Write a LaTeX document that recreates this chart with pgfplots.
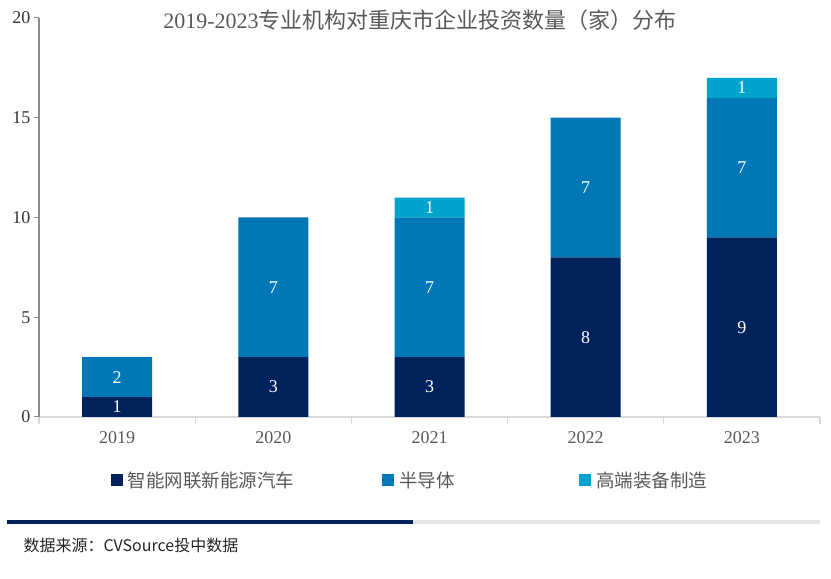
\documentclass[border=0pt]{standalone}
\usepackage{fontspec}
\setmainfont{Liberation Serif}
\newfontfamily\cjk{Noto Sans CJK SC}
\usepackage{pgfplots}
\pgfplotsset{compat=1.18}

\definecolor{navy}{RGB}{0,34,92}
\definecolor{midblue}{RGB}{0,119,182}
\definecolor{lightblue}{RGB}{0,163,204}
\definecolor{txtgray}{RGB}{89,89,89}

\begin{document}
\begin{tikzpicture}
\path[use as bounding box] (0,0) rectangle (831pt,579pt);

\begin{axis}[
    at={(39pt,162pt)}, anchor=south west,
    scale only axis, width=781pt, height=399pt,
    ybar stacked, bar width=70pt,
    xmin=-0.5, xmax=4.5, ymin=0, ymax=20,
    xtick={0,1,2,3,4},
    xticklabels={2019,2020,2021,2022,2023},
    minor xtick={-0.5,0.5,1.5,2.5,3.5,4.5},
    major x tick style={draw=none},
    minor x tick style={draw=black!15, line width=1.2pt},
    minor tick length=7pt,
    ytick={0,5,10,15,20},
    y tick style={draw=black!45, line width=1pt},
    major tick length=5pt,
    tick align=outside,
    tick pos=left,
    axis x line*=bottom, axis y line*=left,
    x axis line style={draw=black!15, line width=1.5pt, -},
    y axis line style={draw=black!45, line width=1.5pt, -},
    /pgf/number format/assume math mode=true,
    xticklabel style={font=\fontsize{18}{18}\selectfont, text=txtgray, yshift=-6pt},
    yticklabel style={font=\fontsize{18}{18}\selectfont, text=black!80},
    legend style={at={(0.475,-0.158)}, anchor=center, draw=none,
        legend columns=3,
        font=\cjk\fontsize{18.5}{18.5}\selectfont, text=txtgray,
        /tikz/every even column/.append style={column sep=86pt},
        /tikz/every odd column/.append style={column sep=3pt}},
    legend cell align=left,
    legend image code/.code={\fill[#1] (0pt,-6pt) rectangle (12pt,6pt);},
]
\addplot[fill=navy, draw=none] coordinates {(0,1) (1,3) (2,3) (3,8) (4,9)};
\addplot[fill=midblue, draw=none] coordinates {(0,2) (1,7) (2,7) (3,7) (4,7)};
\addplot[fill=lightblue, draw=none] coordinates {(0,0) (1,0) (2,1) (3,0) (4,1)};
\legend{智能网联新能源汽车,\makebox[92pt][l]{半导体},高端装备制造}
\end{axis}

\begin{axis}[
    at={(39pt,162pt)}, anchor=south west,
    scale only axis, width=781pt, height=399pt,
    xmin=-0.5, xmax=4.5, ymin=0, ymax=20,
    hide axis,
]
\addplot[draw=none, mark=none, nodes near coords, point meta=explicit symbolic,
    every node near coord/.style={anchor=center, text=white,
        font=\fontsize{18}{18}\selectfont}]
    coordinates {
    (0,0.5)[1] (0,2)[2]
    (1,1.5)[3] (1,6.5)[7]
    (2,1.5)[3] (2,6.5)[7] (2,10.5)[1]
    (3,4)[8] (3,11.5)[7]
    (4,4.5)[9] (4,12.5)[7] (4,16.5)[1]
    };
\end{axis}

\node[text=txtgray, font=\fontsize{22}{22}\selectfont] at (420pt,559pt)
    {2019-2023{\cjk 专业机构对重庆市企业投资数量（家）分布}};
\draw[navy, line width=4pt] (7pt,57pt) -- (413pt,57pt);
\draw[black!10, line width=4pt] (413pt,57pt) -- (820pt,57pt);
\node[anchor=west, text=black!85, font=\cjk\fontsize{16}{16}\selectfont] at (20pt,34pt)
    {数据来源：CVSource投中数据};
\end{tikzpicture}
\end{document}
